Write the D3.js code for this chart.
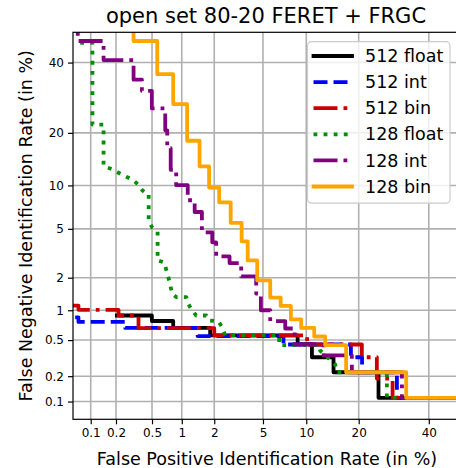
<!DOCTYPE html>
<html>
<head>
<meta charset="utf-8">
<script src="https://cdn.jsdelivr.net/npm/d3@7"></script>
<style>
  body { margin: 0; background: #fff; }
  svg { display: block; font-family: "DejaVu Sans", sans-serif; }
</style>
</head>
<body>
<div id="chart"></div>
<script>
// DET curves, values in percent: [false positive rate, false negative rate]
var float512 = [[0.205,0.889],[0.498,0.889],[0.498,0.784],[0.824,0.784],[0.824,0.667],[1.84,0.667],[1.84,0.559],
  [8.79,0.559],[8.79,0.454],[10.86,0.454],[10.86,0.327],[14.62,0.327],[14.62,0.222],[24.97,0.222],[24.97,0.111],[50,0.111]];
var int512 = [[0.064,0.851],[0.0704,0.851],[0.0704,0.768],[0.255,0.768],[0.255,0.667],[1.415,0.667],[1.415,0.551],
  [7.04,0.551],[7.04,0.449],[18.22,0.449],[18.22,0.327],[20.8,0.327],[20.8,0.222],[30.12,0.222],[30.12,0.111],[50,0.111]];
var bin512 = [[0.055,1.11],[0.0704,1.11],[0.0704,1.01],[0.214,1.01],[0.214,0.889],[0.358,0.889],[0.358,0.665],
  [2.0,0.665],[2.0,0.559],[10.13,0.559],[10.13,0.449],[20.75,0.449],[20.75,0.327],[24.53,0.327],[24.53,0.188],
  [28.87,0.188],[28.87,0.111],[50,0.111]];
var float128 = [[0.074,46.5],[0.105,46.5],[0.105,22.0],[0.143,22.0],[0.143,13.1],[0.18,12.59],[0.23,11.74],[0.269,11.26],
  [0.313,10.79],[0.352,10.18],[0.393,9.31],[0.4445,8.77],[0.461,8.77],[0.461,5.69],[0.502,5.13],[0.572,4.79],[0.572,2.81],
  [0.668,2.71],[0.734,2.05],[0.77,1.71],[0.804,1.44],[0.882,1.333],[1.105,1.333],[1.162,1.138],[1.252,1.0],[1.373,0.889],
  [1.70,0.889],[1.80,0.794],[2.17,0.782],[2.35,0.676],[2.49,0.559],[6.57,0.559],[6.57,0.443],[11.87,0.443],[12.2,0.387],
  [14.94,0.272],[15.27,0.222],[27.26,0.222],[27.26,0.111],[50,0.111]];
var int128 = [[0.069,60],[0.069,47.1],[0.143,47.1],[0.143,40.8],[0.316,40.8],[0.316,34.6],[0.39,34.6],[0.39,31.2],
  [0.498,31.2],[0.498,26.2],[0.685,26.2],[0.685,20.6],[0.718,20.6],[0.718,16.6],[0.778,16.6],[0.778,12.5],[0.882,12.5],
  [0.882,10.03],[1.142,10.03],[1.142,7.99],[1.328,7.99],[1.328,6.63],[1.55,6.63],[1.55,4.71],[1.92,4.71],[1.92,3.94],
  [2.08,3.94],[2.08,3.04],[2.71,3.04],[2.71,2.67],[3.38,2.67],[3.38,2.05],[4.44,2.05],[4.44,1.44],[4.82,1.44],[4.82,1.0],
  [5.66,1.0],[5.66,0.782],[7.24,0.782],[7.24,0.659],[8.4,0.659],[8.4,0.449],[12.8,0.449],[12.8,0.342],[18.43,0.342],
  [18.43,0.222],[31.6,0.222],[31.6,0.111],[50,0.111]];
var bin128 = [[0.316,60],[0.316,47.1],[0.567,47.1],[0.567,36.3],[0.824,36.3],[0.824,27.4],[1.127,27.4],[1.127,18.2],
  [1.474,18.2],[1.474,13.1],[1.80,13.1],[1.80,9.69],[2.21,9.69],[2.21,7.74],[2.77,7.74],[2.77,5.54],[3.41,5.54],[3.41,4.01],
  [3.81,4.01],[3.81,2.81],[4.52,2.81],[4.52,1.89],[5.66,1.89],[5.66,1.32],[6.73,1.32],[6.73,1.10],[7.92,1.10],[7.92,0.813],
  [9.27,0.813],[9.27,0.667],[11.22,0.667],[11.22,0.545],[13.07,0.545],[13.07,0.443],[17.18,0.443],[17.18,0.222],
  [32.89,0.222],[32.89,0.111],[50,0.111]];

var seriesNames = ['512 float', '512 int', '512 bin', '128 float', '128 int', '128 bin'];
var seriesData = [float512, int512, bin512, float128, int128, bin128];
var tickValues = [0.1, 0.2, 0.5, 1, 2, 5, 10, 20, 40];
var tickLabels = ['0.1', '0.2', '0.5', '1', '2', '5', '10', '20', '40'];
var limits = [0.06, 50];

var colors = ['#000000', '#0000ff', '#cc0000', '#009000', '#800080', '#ffa500'];
var lw = 3.8;
var dashes = [null, [14, 6], [24, 6, 3.8, 6], [3.8, 6.3], [24, 6, 3.8, 6], null];

var width = 456, height = 468,
    margin = {left: 73, right: -3, top: 32.3, bottom: 48.7};

// inverse normal cdf (Acklam)
function probit(p) {
  var a = [-3.969683028665376e+01, 2.209460984245205e+02, -2.759285104469687e+02, 1.383577518672690e+02, -3.066479806614716e+01, 2.506628277459239e+00],
      b = [-5.447609879822406e+01, 1.615858368580409e+02, -1.556989798598866e+02, 6.680131188771972e+01, -1.328068155288572e+01],
      c = [-7.784894002430293e-03, -3.223964580411365e-01, -2.400758277161838e+00, -2.549732539343734e+00, 4.374664141464968e+00, 2.938163982698783e+00],
      d = [7.784695709041462e-03, 3.224671290700398e-01, 2.445134137142996e+00, 3.754408661907416e+00];
  var pl = 0.02425, q, r;
  if (p < pl) {
    q = Math.sqrt(-2 * Math.log(p));
    return (((((c[0]*q+c[1])*q+c[2])*q+c[3])*q+c[4])*q+c[5]) / ((((d[0]*q+d[1])*q+d[2])*q+d[3])*q+1);
  }
  if (p <= 1 - pl) {
    q = p - 0.5; r = q * q;
    return (((((a[0]*r+a[1])*r+a[2])*r+a[3])*r+a[4])*r+a[5])*q / (((((b[0]*r+b[1])*r+b[2])*r+b[3])*r+b[4])*r+1);
  }
  q = Math.sqrt(-2 * Math.log(1 - p));
  return -(((((c[0]*q+c[1])*q+c[2])*q+c[3])*q+c[4])*q+c[5]) / ((((d[0]*q+d[1])*q+d[2])*q+d[3])*q+1);
}
function pz(v) { return probit(v / 100); }

var chartW = width - margin.left - margin.right,
    chartH = height - margin.top - margin.bottom;

var x = d3.scaleLinear().domain([pz(limits[0]), pz(limits[1])]).range([0, chartW]);
var y = d3.scaleLinear().domain([pz(limits[0]), pz(limits[1])]).range([chartH, 0]);

var svg = d3.select('#chart').append('svg')
    .attr('width', width)
    .attr('height', height);

svg.append('defs').append('clipPath').attr('id', 'clip')
  .append('rect').attr('width', chartW).attr('height', chartH);

var g = svg.append('g')
    .attr('transform', 'translate(' + margin.left + ',' + margin.top + ')');

// grid
var grid = g.append('g').attr('class', 'grid');
grid.selectAll('.vx').data(tickValues).enter().append('line')
    .attr('x1', function(d) { return x(pz(d)); })
    .attr('x2', function(d) { return x(pz(d)); })
    .attr('y1', 0).attr('y2', chartH)
    .attr('stroke', '#b0b0b0').attr('stroke-width', 1.6);
grid.selectAll('.hy').data(tickValues).enter().append('line')
    .attr('y1', function(d) { return y(pz(d)); })
    .attr('y2', function(d) { return y(pz(d)); })
    .attr('x1', 0).attr('x2', chartW)
    .attr('stroke', '#b0b0b0').attr('stroke-width', 1.6);

// curves
var line = d3.line()
    .x(function(d) { return x(pz(d[0])); })
    .y(function(d) { return y(pz(d[1])); });

g.append('g').attr('clip-path', 'url(#clip)')
  .selectAll('path').data(seriesData).enter().append('path')
    .attr('d', line)
    .attr('fill', 'none')
    .attr('stroke', function(d, i) { return colors[i]; })
    .attr('stroke-width', lw)
    .attr('stroke-linejoin', 'round')
    .attr('stroke-linecap', function(d, i) { return dashes[i] ? 'butt' : 'square'; })
    .attr('stroke-dasharray', function(d, i) { return dashes[i] ? dashes[i].join(',') : null; });

// axes
var xAxis = d3.axisBottom(x)
    .tickValues(tickValues.map(pz))
    .tickFormat(function(d, i) { return tickLabels[i]; })
    .tickSize(5).tickPadding(4);
var yAxis = d3.axisLeft(y)
    .tickValues(tickValues.map(pz))
    .tickFormat(function(d, i) { return tickLabels[i]; })
    .tickSize(5).tickPadding(4);

var gx = g.append('g').attr('transform', 'translate(0,' + chartH + ')').call(xAxis);
var gy = g.append('g').call(yAxis);
[gx, gy].forEach(function(a) {
  a.select('.domain').remove();
  a.selectAll('text').attr('font-size', 12).attr('font-family', 'DejaVu Sans').attr('fill', '#000');
  a.selectAll('line').attr('stroke', '#000').attr('stroke-width', 1.2);
});

// frame
g.append('rect')
    .attr('width', chartW).attr('height', chartH)
    .attr('fill', 'none').attr('stroke', '#000').attr('stroke-width', 1.2);

// titles
svg.append('text')
    .attr('x', 266).attr('y', 22.5)
    .attr('text-anchor', 'middle')
    .attr('font-size', 21)
    .text('open set 80-20 FERET + FRGC');
svg.append('text')
    .attr('x', 267).attr('y', 465)
    .attr('text-anchor', 'middle')
    .attr('font-size', 17.5)
    .text('False Positive Identification Rate (in %)');
svg.append('text')
    .attr('transform', 'translate(31.5,' + (margin.top + chartH / 2) + ') rotate(-90)')
    .attr('text-anchor', 'middle')
    .attr('font-size', 17.5)
    .text('False Negative Identification Rate (in %)');

// legend
var legend = svg.append('g').attr('transform', 'translate(307.5,41.7)');
legend.append('rect')
    .attr('width', 142.5).attr('height', 161.5)
    .attr('rx', 4)
    .attr('fill', '#fff').attr('fill-opacity', 0.8)
    .attr('stroke', '#cccccc').attr('stroke-width', 1.2);
var items = legend.selectAll('.item').data(seriesNames).enter().append('g')
    .attr('transform', function(d, i) { return 'translate(0,' + (14.3 + i * 26.1) + ')'; });
items.append('line')
    .attr('x1', 6).attr('x2', 44.5)
    .attr('stroke', function(d, i) { return colors[i]; })
    .attr('stroke-width', lw)
    .attr('stroke-linecap', function(d, i) { return dashes[i] ? 'butt' : 'square'; })
    .attr('stroke-dasharray', function(d, i) { return dashes[i] ? dashes[i].join(',') : null; });
items.append('text')
    .attr('x', 57.5).attr('dy', '0.35em')
    .attr('font-size', 17.5)
    .text(function(d) { return d; });
</script>
</body>
</html>
